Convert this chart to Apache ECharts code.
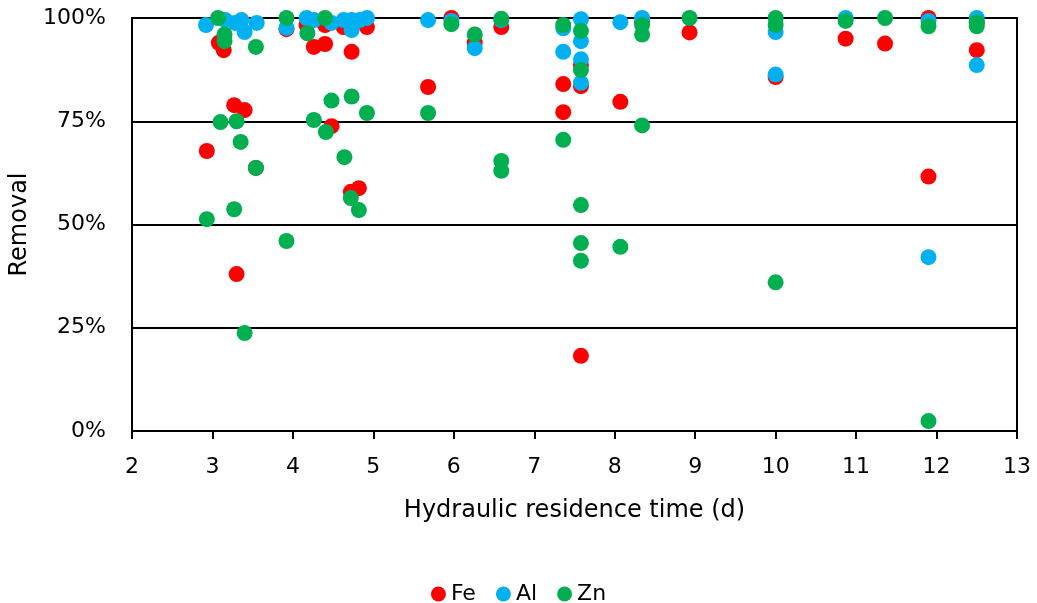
<!DOCTYPE html>
<html>
<head>
<meta charset="utf-8">
<style>
  html, body { margin: 0; padding: 0; background: #fff; }
  #chart { width: 1037px; height: 603px; }
</style>
<script src="https://cdn.jsdelivr.net/npm/echarts@6/dist/echarts.min.js"></script>
</head>
<body>
<div id="chart"></div>
<script>
// [hydraulic residence time (d), removal (%)]
const feData = [
  [2.93, 67.8], [3.08, 94], [3.14, 92.2], [3.27, 78.9], [3.30, 38], [3.40, 77.7],
  [3.54, 63.7], [3.92, 97.3], [4.17, 98.3], [4.26, 93], [4.40, 93.7], [4.40, 98.3],
  [4.48, 73.8], [4.63, 97.8], [4.73, 91.8], [4.72, 57.9], [4.82, 58.8], [4.92, 97.8],
  [5.68, 83.3], [5.97, 100], [6.26, 94], [6.59, 97.8], [7.36, 84], [7.36, 77.2],
  [7.58, 88.6], [7.58, 83.5], [7.58, 18.2], [8.07, 79.7], [8.34, 99], [8.93, 96.5],
  [10.0, 85.7], [10.87, 95], [11.36, 93.8], [11.9, 100], [11.9, 61.6], [12.5, 92.2],
  [12.5, 99]
]
const alData = [
  [2.92, 98.3], [3.16, 99.5], [3.28, 98.8], [3.36, 99.5], [3.40, 96.6], [3.55, 98.8],
  [3.92, 97.6], [4.17, 100], [4.26, 99.5], [4.48, 98.8], [4.63, 99.5], [4.73, 99.5],
  [4.73, 97.1], [4.83, 99.5], [4.92, 100], [5.68, 99.5], [5.97, 99.3], [6.26, 92.7],
  [6.59, 99.5], [7.36, 97.5], [7.36, 91.8], [7.58, 99.7], [7.58, 94.4], [7.58, 90],
  [7.58, 84.3], [8.07, 99], [8.34, 100], [10.0, 96.6], [10.0, 86.3], [10.87, 100],
  [11.9, 99.3], [11.9, 42.1], [12.5, 100], [12.5, 88.6]
]
const znData = [
  [2.93, 51.3], [3.07, 100], [3.10, 74.8], [3.15, 96], [3.15, 94.4], [3.27, 53.7],
  [3.30, 75], [3.35, 70], [3.40, 23.7], [3.54, 93], [3.54, 63.7], [3.92, 100],
  [3.92, 46], [4.18, 96.3], [4.26, 75.3], [4.40, 100], [4.41, 72.4], [4.48, 80],
  [4.64, 66.3], [4.73, 81], [4.72, 56.4], [4.82, 53.5], [4.92, 77], [5.68, 77],
  [5.97, 98.5], [6.26, 96], [6.59, 99.8], [6.59, 65.4], [6.59, 63], [7.36, 98.3],
  [7.36, 70.5], [7.58, 96.9], [7.58, 87.4], [7.58, 54.7], [7.58, 45.5], [7.58, 41.2],
  [8.07, 44.6], [8.34, 98.3], [8.34, 96], [8.34, 74], [8.93, 100], [10.0, 100],
  [10.0, 98.3], [10.0, 36], [10.87, 99.3], [11.36, 100], [11.9, 98], [11.9, 2.4],
  [12.5, 99], [12.5, 98]
]
const seriesNames = ['Fe', 'Al', 'Zn']
const seriesColors = ['#FF0000', '#00B0F0', '#00B050']

const font = 'DejaVu Sans'
const chart = echarts.init(document.getElementById('chart'))

chart.setOption({
  animation: false,
  textStyle: { fontFamily: font, color: '#000' },
  grid: { left: 130, right: 20, top: 18, bottom: 172, show: true, borderColor: '#000', borderWidth: 2 },
  xAxis: {
    type: 'value',
    min: 2, max: 13, interval: 1,
    name: 'Hydraulic residence time (d)',
    nameLocation: 'middle',
    nameGap: 68,
    nameTextStyle: { fontFamily: font, fontSize: 24, color: '#000' },
    axisLine: { show: true, lineStyle: { color: '#000', width: 2 } },
    axisTick: { show: true, inside: false, length: 8, lineStyle: { color: '#000', width: 2 } },
    axisLabel: { fontFamily: font, fontSize: 22, color: '#000', margin: 25 },
    splitLine: { show: false }
  },
  yAxis: {
    type: 'value',
    min: 0, max: 100, interval: 25,
    name: 'Removal',
    nameLocation: 'middle',
    nameGap: 100,
    nameTextStyle: { fontFamily: font, fontSize: 24, color: '#000' },
    axisLine: { show: true, lineStyle: { color: '#000', width: 2 } },
    axisTick: { show: false },
    axisLabel: { fontFamily: font, fontSize: 22, color: '#000', margin: 26, formatter: '{value}%' },
    splitLine: { show: true, lineStyle: { color: '#000', width: 2 } }
  },
  legend: {
    data: seriesNames,
    top: 578,
    left: 'center',
    icon: 'circle',
    itemWidth: 15,
    itemHeight: 15,
    itemGap: 20,
    textStyle: { fontFamily: font, fontSize: 22, color: '#000' }
  },
  series: [feData, alData, znData].map((d, i) => ({
    name: seriesNames[i],
    type: 'scatter',
    data: d,
    symbol: 'circle',
    symbolSize: 16,
    itemStyle: { color: seriesColors[i], opacity: 1 }
  }))
})
</script>
</body>
</html>
